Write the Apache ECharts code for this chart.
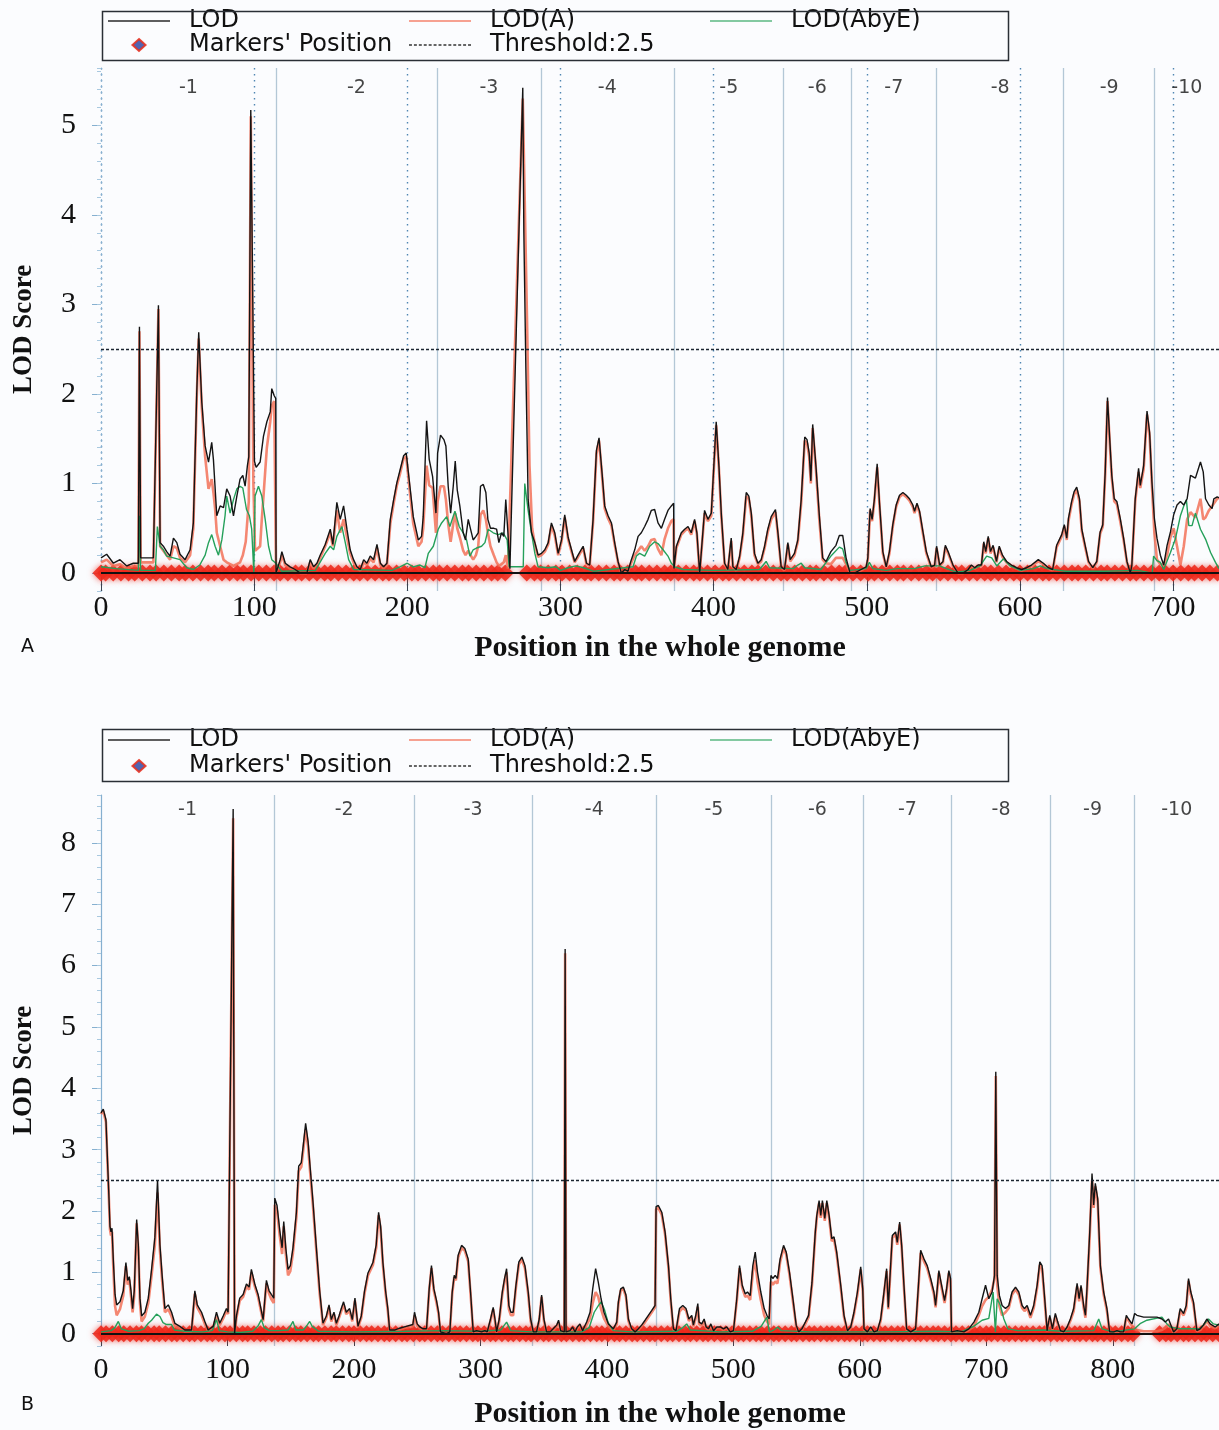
<!DOCTYPE html>
<html>
<head>
<meta charset="utf-8">
<script src="https://cdn.jsdelivr.net/npm/echarts@6/dist/echarts.min.js"></script>
<style>
html,body{margin:0;padding:0;background:#fbfcfe;}
#chart{width:1219px;height:1430px;}
</style>
</head>
<body>
<div id="chart"></div>
<script>
// ---------- DATA ----------
const chrLabels = ['-1','-2','-3','-4','-5','-6','-7','-8','-9','-10'];
const chrBoundsA = [0,114.2,219.3,287.2,374.0,445.8,489.6,545.7,628.6,688.0,730];
const chrBoundsB = [0,136.9,247.6,341.0,439.1,530.1,602.8,672.5,750.8,817.2,884];
const yLabelsA = [0,1,2,3,4,5];
const yLabelsB = [0,1,2,3,4,5,6,7,8];
const threshold = 2.5;

const markersA = [0,3,8,13,18,22,27,32,36,41,46,51,55,60,65,70,74,79,84,89,93,98,103,108,113,117,122,127,131,136,141,146,150,155,160,165,169,174,179,184,188,193,198,203,207,212,217,221,226,231,236,240,245,250,255,259,264,278,283,287,292,297,301,306,311,316,320,325,330,335,339,344,349,353,358,363,368,372,377,382,387,391,396,401,406,410,415,420,425,429,434,439,444,448,453,458,463,467,472,477,482,486,491,496,501,505,510,515,520,524,529,534,539,543,548,553,558,562,567,572,577,581,586,591,596,600,605,610,615,619,624,629,634,638,643,648,653,657,662,667,672,676,681,686,691,695,700,705,710,714,719,724,729];
const markersB = [0,4,9,14,18,23,28,32,37,42,46,51,56,60,65,70,74,79,84,88,93,98,102,107,112,116,121,126,130,135,140,144,149,154,158,163,168,172,177,182,186,191,196,200,205,210,214,219,224,228,233,238,242,247,252,256,261,266,270,275,280,284,289,294,298,303,308,312,317,322,326,331,336,340,345,350,354,359,364,368,373,378,382,387,392,396,401,406,410,415,420,424,429,434,438,443,448,452,457,462,466,471,476,480,485,490,494,499,504,508,513,518,522,527,532,536,541,546,550,555,560,564,569,574,578,583,588,592,597,602,606,611,616,620,625,630,634,639,644,648,653,658,662,667,672,676,681,686,690,695,700,704,709,714,718,723,728,732,737,742,746,751,756,760,765,770,774,779,784,788,793,798,802,807,812,816,837,842,846,851,856,860,865,870,874,879,884];

// Panel A: LOD
const lodA = [[0,0.17],[3.7,0.21],[8.1,0.11],[12.4,0.15],[16.8,0.08],[21.1,0.11],[24.4,0.11],[25.1,2.75],[25.9,0.17],[34.2,0.17],[35.5,0.15],[37.5,2.99],[38.6,0.34],[40.7,0.30],[42.9,0.24],[45.1,0.19],[47.3,0.39],[49.5,0.34],[51.6,0.21],[54.9,0.15],[58.2,0.26],[60.3,0.56],[62.5,2.0],[63.8,2.69],[65.8,1.91],[68.0,1.42],[70.2,1.24],[72.3,1.46],[73.4,1.27],[74.5,1.27],[75.6,0.64],[77.8,0.75],[80.0,0.73],[82.1,0.94],[84.3,0.86],[86.5,0.64],[88.7,0.86],[90.8,1.05],[92.6,1.09],[94.1,0.97],[95.6,1.2],[96.5,1.3],[97.8,5.17],[100.2,1.25],[101.3,1.18],[103.9,1.24],[106.1,1.53],[108.3,1.69],[110.5,1.80],[111.5,2.06],[113.1,1.98],[114.1,1.95],[114.3,0.0],[117.0,0.15],[118.1,0.24],[120.3,0.11],[123.5,0.07],[126.8,0.04],[130.1,0.0],[134.4,0.0],[136.6,0.15],[138.8,0.07],[141.0,0.11],[143.1,0.2],[146.4,0.32],[149.7,0.49],[151.4,0.32],[154.0,0.79],[156.2,0.6],[158.4,0.75],[160.6,0.49],[162.7,0.26],[164.9,0.15],[167.1,0.07],[169.3,0.04],[171.5,0.15],[173.6,0.11],[175.8,0.19],[178.0,0.15],[180.2,0.32],[182.4,0.11],[184.5,0.07],[186.7,0.11],[188.9,0.6],[191.1,0.82],[193.2,1.01],[195.4,1.16],[197.6,1.31],[199.3,1.34],[201.7,0.97],[203.9,0.63],[207.2,0.37],[209.3,0.41],[210.4,0.63],[212.6,1.70],[214.3,1.27],[216.5,1.08],[218.7,0.67],[219.8,1.34],[221.7,1.54],[223.9,1.49],[225.2,1.42],[226.7,0.97],[228.3,0.67],[230.0,0.97],[231.3,1.25],[232.6,0.93],[234.3,0.75],[236.5,0.45],[238.0,0.37],[239.8,0.60],[241.3,0.49],[243.0,0.37],[244.8,0.41],[246.3,0.45],[247.8,0.97],[249.6,0.99],[251.3,0.90],[252.6,0.60],[254.3,0.50],[256.5,0.50],[258.3,0.49],[259.8,0.34],[261.5,0.45],[263.0,0.41],[264.3,0.82],[265.7,0.45],[267.0,0.05],[275.4,5.42],[276.1,3.8],[277.4,2.3],[278.9,0.82],[281.1,0.45],[283.3,0.34],[285.4,0.2],[287.6,0.22],[289.8,0.26],[292.0,0.34],[294.1,0.56],[296.3,0.45],[298.5,0.22],[300.7,0.37],[302.8,0.65],[305.0,0.40],[307.2,0.26],[309.3,0.13],[311.5,0.20],[314.8,0.30],[317.0,0.11],[319.1,0.09],[321.3,0.6],[323.5,1.37],[325.2,1.51],[327.0,1.15],[328.9,0.75],[331.1,0.64],[333.3,0.56],[335.4,0.34],[337.6,0.13],[339.8,0.0],[342.0,0.04],[344.1,0.02],[346.3,0.15],[348.5,0.26],[350.7,0.41],[352.8,0.45],[355.0,0.52],[357.2,0.6],[359.3,0.7],[361.5,0.71],[363.7,0.56],[365.9,0.5],[368.0,0.6],[370.2,0.7],[372.4,0.75],[373.9,0.78],[374.1,0.05],[375.7,0.3],[378.9,0.45],[381.1,0.49],[383.3,0.52],[385.4,0.45],[387.6,0.60],[389.1,0.45],[390.9,0.0],[394.1,0.70],[396.3,0.60],[398.5,0.67],[401.7,1.69],[403.5,1.19],[405.0,0.67],[407.2,0.11],[409.3,0.04],[411.5,0.39],[412.6,0.07],[414.8,0.04],[417.0,0.19],[419.1,0.45],[421.3,0.90],[423.0,0.86],[424.6,0.67],[426.7,0.22],[428.9,0.11],[431.1,0.15],[433.3,0.30],[435.4,0.49],[437.6,0.63],[440.4,0.71],[442.0,0.45],[444.1,0.07],[446.3,0.04],[448.5,0.34],[450.0,0.15],[452.8,0.22],[455.0,0.37],[457.2,0.82],[459.5,1.52],[461.0,1.49],[462.4,1.34],[463.5,1.03],[464.7,1.66],[466.8,1.2],[469.0,0.65],[471.2,0.17],[473.4,0.13],[476.6,0.24],[479.9,0.31],[482.1,0.42],[484.3,0.42],[486.5,0.17],[489.1,0.0],[491.9,0.0],[496.3,0.04],[499.6,0.07],[500.7,0.17],[502.2,0.72],[503.5,0.6],[505.0,0.83],[506.8,1.22],[508.3,0.79],[510.5,0.24],[512.7,0.07],[514.8,0.24],[517.0,0.54],[519.2,0.76],[521.4,0.87],[523.6,0.9],[525.8,0.87],[527.9,0.83],[530.1,0.76],[531.2,0.69],[532.8,0.78],[534.5,0.69],[536.7,0.46],[538.9,0.24],[542.1,0.07],[544.3,0.09],[545.6,0.3],[547.6,0.09],[549.8,0.13],[551.3,0.31],[553.1,0.24],[556.3,0.09],[559.6,0.0],[562.9,0.0],[566.2,0.04],[568.3,0.09],[570.5,0.06],[572.7,0.09],[574.9,0.09],[576.4,0.35],[577.7,0.24],[579.3,0.41],[580.8,0.24],[582.5,0.31],[584.7,0.13],[586.5,0.3],[588.6,0.2],[591.3,0.13],[594.5,0.09],[597.8,0.06],[601.1,0.04],[604.4,0.06],[607.6,0.09],[612.0,0.15],[615.3,0.11],[618.6,0.06],[621.4,0.04],[624.0,0.31],[627.3,0.43],[629.0,0.54],[630.6,0.39],[631.7,0.61],[633.8,0.80],[635.4,0.91],[637.1,0.96],[638.9,0.83],[640.4,0.49],[642.6,0.31],[644.8,0.13],[647.6,0.06],[650.2,0.13],[652.4,0.46],[654.1,0.54],[655.7,1.13],[657.2,1.96],[659.0,1.39],[660.0,1.09],[661.6,0.83],[663.3,0.80],[665.5,0.61],[667.7,0.39],[669.9,0.13],[672.1,0.0],[673.1,0.09],[675.3,0.83],[677.5,1.17],[678.6,0.98],[680.8,1.2],[683.0,1.81],[684.7,1.57],[686.2,1.02],[687.8,0.61],[689.5,0.39],[691.7,0.2],[693.9,0.09],[696.1,0.31],[698.3,0.46],[700.4,0.65],[702.6,0.76],[704.8,0.80],[707.0,0.76],[709.2,0.83],[711.4,1.09],[714.6,1.06],[717.9,1.24],[719.7,1.13],[721.2,0.83],[723.4,0.76],[725.5,0.72],[726.6,0.83],[728.8,0.85],[730,0.84]];

// Panel A: LOD(A)
const lodAddA = [[0,0.12],[3.7,0.15],[8.1,0.08],[12.4,0.1],[16.8,0.05],[21.1,0.08],[24.4,0.08],[25.1,2.7],[25.9,0.12],[34.2,0.12],[35.5,0.1],[37.5,2.95],[38.6,0.3],[40.7,0.25],[42.9,0.2],[45.1,0.15],[47.3,0.3],[49.5,0.28],[51.6,0.17],[54.9,0.12],[58.2,0.2],[60.3,0.5],[62.5,1.95],[63.8,2.62],[65.8,1.85],[68.0,1.3],[70.2,0.94],[72.3,1.05],[73.4,0.9],[74.5,0.72],[75.6,0.45],[77.8,0.3],[80.0,0.15],[82.1,0.12],[84.3,0.1],[86.5,0.08],[88.7,0.1],[90.8,0.12],[92.6,0.2],[94.5,0.35],[96.5,0.8],[97.8,5.1],[99.5,1.0],[100.6,0.25],[103.9,0.3],[105.0,0.6],[106.1,0.86],[108.3,1.4],[110.5,1.69],[111.5,1.87],[113.1,1.92],[114.1,1.9],[114.3,0.0],[117.0,0.12],[118.1,0.2],[120.3,0.09],[123.5,0.05],[126.8,0.03],[130.1,0.0],[134.4,0.0],[136.6,0.12],[138.8,0.05],[141.0,0.09],[143.1,0.17],[146.4,0.3],[149.7,0.45],[151.4,0.3],[154.0,0.7],[156.2,0.45],[158.4,0.6],[160.6,0.4],[162.7,0.22],[164.9,0.12],[167.1,0.05],[169.3,0.03],[171.5,0.12],[173.6,0.09],[175.8,0.16],[178.0,0.12],[180.2,0.28],[182.4,0.09],[184.5,0.05],[186.7,0.09],[188.9,0.55],[191.1,0.78],[193.2,0.98],[195.4,1.12],[197.6,1.28],[199.3,1.30],[201.7,0.9],[203.9,0.55],[207.2,0.3],[209.3,0.35],[210.4,0.5],[212.6,1.2],[214.3,0.98],[216.5,0.95],[218.7,0.45],[219.8,0.8],[221.7,0.97],[223.9,0.97],[225.2,0.82],[226.7,0.55],[228.3,0.35],[230.0,0.55],[231.3,0.67],[232.6,0.5],[234.3,0.4],[236.5,0.25],[238.0,0.2],[239.8,0.25],[241.3,0.2],[243.0,0.15],[244.8,0.2],[246.3,0.3],[247.8,0.65],[249.6,0.7],[251.3,0.6],[252.6,0.45],[254.3,0.3],[256.5,0.2],[258.3,0.12],[259.8,0.08],[261.5,0.1],[263.0,0.12],[264.3,0.2],[265.7,0.05],[267.0,0.05],[275.4,5.3],[276.3,4.5],[278.2,2.8],[279.8,1.2],[281.5,0.5],[283.3,0.32],[285.4,0.18],[287.6,0.2],[289.8,0.24],[292.0,0.32],[294.1,0.53],[296.3,0.42],[298.5,0.2],[300.7,0.35],[302.8,0.62],[305.0,0.38],[307.2,0.24],[309.3,0.12],[311.5,0.18],[314.8,0.28],[317.0,0.1],[319.1,0.08],[321.3,0.57],[323.5,1.33],[325.2,1.48],[327.0,1.12],[328.9,0.72],[331.1,0.61],[333.3,0.53],[335.4,0.32],[337.6,0.12],[339.8,0.0],[342.0,0.03],[344.1,0.02],[346.3,0.12],[348.5,0.2],[350.7,0.25],[352.8,0.3],[355.0,0.25],[357.2,0.3],[359.3,0.37],[361.5,0.38],[363.7,0.27],[365.9,0.2],[368.0,0.38],[370.2,0.5],[372.4,0.58],[373.9,0.6],[374.1,0.05],[375.7,0.28],[378.9,0.43],[381.1,0.47],[383.3,0.5],[385.4,0.43],[387.6,0.58],[389.1,0.43],[390.9,0.0],[394.1,0.67],[396.3,0.58],[398.5,0.64],[401.7,1.65],[403.5,1.16],[405.0,0.64],[407.2,0.1],[409.3,0.03],[411.5,0.36],[412.6,0.06],[414.8,0.03],[417.0,0.17],[419.1,0.42],[421.3,0.86],[423.0,0.83],[424.6,0.64],[426.7,0.2],[428.9,0.1],[431.1,0.13],[433.3,0.28],[435.4,0.46],[437.6,0.6],[440.4,0.68],[442.0,0.43],[444.1,0.06],[446.3,0.03],[448.5,0.32],[450.0,0.13],[452.8,0.2],[455.0,0.35],[457.2,0.78],[459.5,1.48],[461.0,1.45],[462.4,1.3],[463.5,1.0],[464.7,1.62],[466.8,1.16],[469.0,0.6],[471.2,0.15],[473.4,0.11],[476.6,0.1],[479.9,0.17],[482.1,0.17],[484.3,0.17],[486.5,0.1],[489.1,0.0],[491.9,0.0],[496.3,0.03],[499.6,0.06],[500.7,0.15],[502.2,0.7],[503.5,0.58],[505.0,0.8],[506.8,1.18],[508.3,0.76],[510.5,0.22],[512.7,0.06],[514.8,0.22],[517.0,0.52],[519.2,0.74],[521.4,0.85],[523.6,0.88],[525.8,0.85],[527.9,0.81],[530.1,0.74],[531.2,0.67],[532.8,0.76],[534.5,0.67],[536.7,0.44],[538.9,0.22],[542.1,0.06],[544.3,0.08],[545.6,0.28],[547.6,0.08],[549.8,0.12],[551.3,0.29],[553.1,0.22],[556.3,0.08],[559.6,0.0],[562.9,0.0],[566.2,0.03],[568.3,0.08],[570.5,0.05],[572.7,0.08],[574.9,0.08],[576.4,0.33],[577.7,0.22],[579.3,0.39],[580.8,0.22],[582.5,0.29],[584.7,0.12],[586.5,0.28],[588.6,0.18],[591.3,0.12],[594.5,0.08],[597.8,0.05],[601.1,0.03],[604.4,0.05],[607.6,0.08],[612.0,0.13],[615.3,0.1],[618.6,0.05],[621.4,0.03],[624.0,0.29],[627.3,0.41],[629.0,0.52],[630.6,0.37],[631.7,0.58],[633.8,0.77],[635.4,0.88],[637.1,0.93],[638.9,0.8],[640.4,0.47],[642.6,0.29],[644.8,0.12],[647.6,0.05],[650.2,0.12],[652.4,0.44],[654.1,0.52],[655.7,1.1],[657.2,1.92],[659.0,1.35],[660.0,1.06],[661.6,0.8],[663.3,0.77],[665.5,0.58],[667.7,0.37],[669.9,0.12],[672.1,0.0],[673.1,0.08],[675.3,0.8],[677.5,1.13],[678.6,0.95],[680.8,1.16],[683.0,1.77],[684.7,1.53],[686.2,0.98],[687.8,0.45],[689.5,0.15],[691.7,0.1],[693.9,0.09],[696.1,0.2],[698.3,0.4],[700.4,0.5],[702.6,0.3],[704.8,0.09],[707.0,0.3],[709.2,0.6],[711.4,0.68],[714.6,0.62],[717.9,0.83],[719.7,0.6],[721.2,0.62],[723.4,0.7],[725.5,0.75],[728.8,0.83],[730,0.84]];

// Panel A: LOD(AbyE)
const lodAbyEA = [[0,0.07],[10,0.05],[24.4,0.03],[25.1,0.64],[25.9,0.03],[35.5,0.03],[36.8,0.52],[38.6,0.30],[40.7,0.26],[42.9,0.19],[47.3,0.17],[51.6,0.15],[56,0.06],[60.3,0.04],[64.5,0.09],[68.0,0.2],[70.2,0.34],[72.3,0.43],[74.5,0.30],[76.7,0.2],[78.9,0.37],[81.0,0.64],[82.1,0.86],[84.3,0.67],[86.5,0.82],[88.7,0.94],[90.8,0.97],[92.6,0.95],[95.0,0.71],[96.9,0.64],[98.4,0.49],[99.8,0.0],[100.6,0.86],[102.8,0.97],[105.0,0.86],[107.2,0.6],[109.4,0.3],[111.5,0.15],[114.2,0.11],[118,0.02],[140,0.03],[146.4,0.22],[149.7,0.30],[151.9,0.26],[154.0,0.41],[157.3,0.52],[159.5,0.34],[161.7,0.15],[165,0.04],[190,0.03],[195.2,0.07],[200,0.11],[203.9,0.07],[208.3,0.09],[211.5,0.06],[213.7,0.22],[217.0,0.3],[220.2,0.49],[222.4,0.56],[225.7,0.63],[227.8,0.52],[231.1,0.69],[233.9,0.52],[236.5,0.45],[238.7,0.37],[240.9,0.19],[243.0,0.26],[245.2,0.28],[248.5,0.3],[250.7,0.34],[252.8,0.49],[256.1,0.45],[259.3,0.43],[262.6,0.45],[265.2,0.37],[266.5,0.07],[275.7,0.07],[276.7,1.0],[278.9,0.7],[281.1,0.45],[283.3,0.22],[285.4,0.07],[292,0.06],[297,0.07],[300,0.03],[305,0.06],[310,0.08],[315,0.06],[322,0.02],[347.4,0.07],[349.6,0.19],[351.7,0.22],[355.0,0.19],[358.3,0.3],[361.5,0.35],[363.7,0.33],[367,0.26],[370.2,0.19],[372.4,0.11],[374.6,0.07],[380,0.04],[400,0.03],[430,0.04],[434.3,0.13],[436.5,0.06],[452,0.05],[455,0.09],[457.2,0.11],[459.5,0.06],[470,0.04],[476.6,0.19],[482.1,0.29],[484.3,0.27],[486.5,0.12],[489,0.03],[499.6,0.05],[501.7,0.12],[504.0,0.05],[512.7,0.03],[520,0.05],[531.2,0.05],[538,0.08],[547.6,0.08],[552.0,0.05],[558.6,0.01],[567.4,0.03],[574,0.08],[578.3,0.19],[581.6,0.17],[584.9,0.08],[589.3,0.16],[593.6,0.08],[600.2,0.03],[609.0,0.05],[613.3,0.08],[617.7,0.05],[630,0.02],[655,0.02],[677,0.03],[686.4,0.0],[687.3,0.19],[689.5,0.14],[691.7,0.12],[693.9,0.04],[698.3,0.23],[701.5,0.38],[704.8,0.64],[707.0,0.75],[708.7,0.82],[710.3,0.53],[712.4,0.53],[714.6,0.67],[717.9,0.49],[721.2,0.38],[724.5,0.23],[727.7,0.12],[730,0.05]];

// Panel B: LOD
const lodB = [[0,3.6],[1.8,3.66],[3.9,3.49],[5.0,2.9],[6.1,2.33],[7.1,1.75],[7.9,1.66],[8.7,1.72],[9.7,1.22],[11.1,0.64],[12.4,0.47],[15.0,0.52],[17.6,0.7],[19.7,1.16],[21.1,0.87],[22.4,0.93],[23.7,0.7],[25.0,0.41],[26.3,0.7],[28.2,1.86],[29.5,1.45],[30.8,0.58],[32.1,0.29],[34.7,0.35],[37.4,0.58],[40.0,1.05],[42.6,1.57],[44.7,2.5],[46.6,1.45],[48.4,0.93],[50.5,0.41],[53.2,0.47],[55.8,0.35],[58.4,0.17],[62.4,0.12],[66.3,0.06],[71.6,0.06],[74.2,0.7],[76.1,0.47],[79.5,0.35],[82.1,0.2],[84.7,0.06],[88.7,0.12],[91.3,0.35],[93.9,0.17],[96.6,0.29],[99.2,0.41],[100.5,0.35],[104.5,8.55],[105.6,0.0],[107.1,0.29],[109.7,0.58],[112.4,0.64],[115.0,0.81],[117.1,0.76],[118.9,1.05],[121.6,0.81],[124.2,0.64],[128.2,0.23],[130.8,0.87],[132.9,0.7],[134.7,0.64],[136.6,0.58],[137.4,2.21],[139.2,2.09],[141.3,1.69],[143.2,1.4],[144.5,1.83],[146.1,1.4],[147.9,1.05],[149.7,1.11],[151.8,1.4],[154.5,1.98],[156.3,2.73],[158.4,2.79],[160.3,3.14],[161.8,3.43],[163.7,3.14],[165.5,2.68],[167.6,2.15],[170.3,1.4],[172.9,0.7],[175.5,0.17],[178.2,0.29],[180.3,0.47],[182.1,0.23],[184.2,0.35],[186.1,0.17],[188.2,0.29],[190.0,0.41],[191.8,0.52],[193.9,0.35],[196.6,0.41],[198.7,0.23],[200.8,0.58],[203.2,0.12],[205.8,0.29],[208.4,0.7],[211.1,0.99],[215.0,1.16],[217.6,1.45],[219.5,1.98],[221.1,1.75],[222.9,1.16],[225.0,0.7],[226.8,0.41],[228.2,0.06],[232.1,0.06],[236.1,0.09],[241.3,0.12],[246.6,0.15],[247.9,0.35],[250.0,0.16],[252.1,0.11],[254.7,0.08],[257.4,0.08],[259.5,0.73],[261.3,1.11],[263.2,0.73],[265.3,0.54],[266.9,0.35],[268.4,0.03],[273.2,0.0],[275.8,0.03],[277.7,0.68],[279.3,0.95],[280.6,0.90],[282.4,1.28],[285.1,1.44],[287.7,1.39],[290.3,1.22],[292.2,0.68],[294.3,0.03],[296.9,0.05],[300.9,0.03],[303.5,0.05],[305.4,0.03],[308.0,0.24],[310.1,0.43],[311.5,0.24],[312.8,0.03],[314.9,0.24],[317.3,0.68],[319.1,0.90],[320.7,1.06],[322.5,0.46],[324.1,0.35],[325.9,0.35],[328.1,0.79],[330.4,1.17],[332.8,1.25],[335.2,1.11],[337.8,0.68],[339.7,0.24],[341.8,0.03],[344.4,0.03],[346.5,0.24],[348.4,0.63],[350.2,0.24],[352.3,0.03],[355.0,0.03],[357.6,0.08],[360.3,0.14],[361.8,0.22],[363.4,0.05],[366.3,0.03],[367.0,6.27],[367.7,0.03],[370.8,0.05],[372.9,0.11],[374.8,0.03],[376.6,0.11],[378.7,0.16],[380.8,0.05],[384.0,0.19],[386.7,0.35],[388.8,0.73],[391.1,1.06],[393.2,0.84],[395.4,0.57],[397.7,0.35],[401.2,0.16],[405.1,0.08],[407.8,0.19],[409.1,0.52],[410.9,0.73],[413.0,0.76],[415.1,0.63],[417.0,0.24],[419.6,0.08],[422.3,0.03],[424.9,0.08],[427.5,0.14],[430.2,0.22],[432.8,0.30],[435.5,0.38],[438.1,0.46],[438.9,2.07],[440.7,2.09],[443.4,1.98],[446.0,1.66],[448.7,1.11],[450.5,0.57],[452.6,0.08],[454.7,0.05],[457.4,0.41],[460.0,0.46],[462.6,0.41],[464.8,0.24],[467.1,0.30],[468.4,0.14],[470.3,0.30],[471.9,0.49],[472.9,0.19],[475.0,0.16],[476.9,0.24],[478.5,0.11],[480.3,0.08],[482.2,0.16],[484.3,0.05],[486.9,0.11],[489.6,0.11],[492.2,0.08],[494.8,0.11],[497.5,0.03],[500.1,0.05],[502.7,0.57],[504.9,1.11],[507.0,0.79],[509.4,0.65],[511.2,0.68],[513.3,0.62],[515.4,1.11],[517.3,1.33],[519.1,1.00],[521.7,0.68],[524.4,0.41],[526.5,0.30],[528.3,0.24],[529.7,0.95],[531.2,0.90],[533.1,0.95],[534.9,0.90],[537.0,1.22],[539.7,1.44],[541.8,1.33],[544.4,1.00],[547.1,0.57],[549.7,0.14],[551.6,0.03],[554.2,0.08],[556.9,0.19],[559.5,0.30],[562.2,0.84],[564.8,1.66],[566.0,1.93],[567.8,2.17],[569.1,1.93],[570.4,2.17],[572.3,1.88],[573.9,2.17],[575.7,1.93],[577.8,1.55],[579.6,1.58],[581.7,1.33],[584.9,0.79],[587.5,0.30],[590.2,0.05],[592.8,0.11],[595.4,0.35],[598.1,0.68],[600.7,1.09],[602.3,0.73],[603.3,0.08],[606.0,0.03],[608.6,0.11],[611.2,0.03],[613.9,0.05],[616.5,0.24],[619.1,0.68],[621.2,1.06],[622.5,0.43],[623.9,0.95],[625.7,1.60],[628.3,1.66],[629.6,1.49],[631.5,1.82],[633.1,1.44],[634.9,0.79],[637.0,0.08],[640.2,0.03],[644.1,0.08],[646.0,0.68],[648.1,1.36],[650.7,1.22],[653.3,1.11],[656.0,0.90],[658.6,0.68],[659.9,0.46],[661.2,0.73],[662.5,1.03],[663.9,0.87],[665.2,0.90],[667.0,0.54],[668.6,0.73],[670.4,1.03],[671.7,0.90],[672.5,0.03],[677.0,0.05],[682.3,0.03],[686.2,0.08],[690.2,0.19],[694.1,0.35],[696.7,0.57],[699.4,0.79],[702.0,0.57],[704.6,0.68],[706.5,0.95],[707.5,4.27],[708.6,0.95],[710.4,0.62],[712.5,0.46],[715.2,0.41],[717.8,0.46],[720.4,0.68],[723.1,0.76],[725.7,0.68],[728.3,0.46],[730.2,0.41],[732.3,0.46],[734.9,0.30],[737.5,0.46],[740.2,0.79],[742.3,1.17],[744.1,1.11],[746.2,0.57],[748.1,0.05],[750.2,0.30],[752.3,0.08],[754.6,0.33],[756.5,0.19],[758.6,0.05],[761.2,0.03],[763.9,0.11],[766.5,0.24],[769.1,0.41],[771.8,0.82],[773.4,0.57],[774.9,0.79],[777.0,0.46],[778.4,0.30],[779.6,0.73],[781.8,1.66],[783.6,2.61],[784.9,2.10],[786.2,2.45],[788.1,2.20],[790.2,1.11],[792.8,0.68],[795.4,0.41],[797.5,0.03],[800.7,0.03],[803.3,0.05],[806.0,0.03],[808.6,0.03],[810.7,0.30],[812.5,0.24],[815.2,0.16],[817.3,0.33],[819.1,0.30],[824.4,0.27],[829.6,0.27],[834.9,0.27],[838.9,0.24],[841.5,0.19],[844.1,0.24],[846.0,0.14],[848.1,0.03],[850.7,0.08],[853.3,0.41],[856.0,0.33],[858.1,0.46],[859.9,0.90],[861.7,0.68],[863.8,0.52],[866.5,0.05],[869.1,0.08],[871.7,0.14],[874.4,0.24],[877.0,0.16],[881.0,0.11],[884,0.16]];

// Panel B: LOD(A)
const lodAddB = [[0,3.58],[1.8,3.63],[3.9,3.45],[5.0,2.85],[6.1,2.28],[7.1,1.7],[7.9,1.6],[8.7,1.66],[9.7,1.1],[11.1,0.45],[12.4,0.3],[15.0,0.4],[17.6,0.62],[19.7,1.1],[21.1,0.8],[22.4,0.88],[23.7,0.62],[25.0,0.35],[26.3,0.62],[28.2,1.8],[29.5,1.38],[30.8,0.5],[32.1,0.2],[34.7,0.28],[37.4,0.5],[40.0,0.95],[42.6,1.45],[44.7,2.3],[46.6,1.35],[48.4,0.85],[50.5,0.35],[53.2,0.4],[55.8,0.28],[58.4,0.12],[62.4,0.09],[66.3,0.04],[71.6,0.04],[74.2,0.65],[76.1,0.43],[79.5,0.3],[82.1,0.16],[84.7,0.04],[88.7,0.1],[91.3,0.28],[93.9,0.14],[96.6,0.25],[99.2,0.37],[100.5,0.32],[104.5,8.4],[105.6,0.0],[107.1,0.26],[109.7,0.54],[112.4,0.6],[115.0,0.77],[117.1,0.72],[118.9,1.0],[121.6,0.77],[124.2,0.6],[128.2,0.2],[130.8,0.82],[132.9,0.65],[134.7,0.56],[136.6,0.5],[137.4,2.1],[139.2,2.0],[141.3,1.6],[143.2,1.3],[144.5,1.75],[146.1,1.3],[147.9,0.95],[149.7,1.02],[151.8,1.32],[154.5,1.9],[156.3,2.65],[158.4,2.72],[160.3,3.06],[161.8,3.33],[163.7,3.06],[165.5,2.6],[167.6,2.08],[170.3,1.34],[172.9,0.65],[175.5,0.14],[178.2,0.26],[180.3,0.43],[182.1,0.2],[184.2,0.32],[186.1,0.14],[188.2,0.26],[190.0,0.37],[191.8,0.48],[193.9,0.32],[196.6,0.37],[198.7,0.2],[200.8,0.54],[203.2,0.1],[205.8,0.26],[208.4,0.66],[211.1,0.95],[215.0,1.12],[217.6,1.4],[219.5,1.93],[221.1,1.7],[222.9,1.12],[225.0,0.66],[226.8,0.37],[228.2,0.05],[232.1,0.05],[236.1,0.07],[241.3,0.1],[246.6,0.12],[247.9,0.3],[250.0,0.13],[252.1,0.09],[254.7,0.06],[257.4,0.06],[259.5,0.7],[261.3,1.07],[263.2,0.7],[265.3,0.5],[266.9,0.32],[268.4,0.02],[273.2,0.0],[275.8,0.02],[277.7,0.65],[279.3,0.92],[280.6,0.87],[282.4,1.24],[285.1,1.4],[287.7,1.35],[290.3,1.18],[292.2,0.65],[294.3,0.02],[296.9,0.04],[300.9,0.02],[303.5,0.04],[305.4,0.02],[308.0,0.21],[310.1,0.4],[311.5,0.21],[312.8,0.02],[314.9,0.21],[317.3,0.64],[319.1,0.86],[320.7,1.0],[322.5,0.4],[324.1,0.3],[325.9,0.3],[328.1,0.75],[330.4,1.13],[332.8,1.21],[335.2,1.07],[337.8,0.64],[339.7,0.21],[341.8,0.02],[344.4,0.02],[346.5,0.21],[348.4,0.6],[350.2,0.21],[352.3,0.02],[355.0,0.02],[357.6,0.06],[360.3,0.12],[361.8,0.19],[363.4,0.04],[366.3,0.02],[367.0,6.2],[367.7,0.02],[370.8,0.04],[372.9,0.09],[374.8,0.02],[376.6,0.09],[378.7,0.13],[380.8,0.04],[384.0,0.15],[386.7,0.25],[388.8,0.5],[391.1,0.68],[393.2,0.6],[395.4,0.4],[397.7,0.25],[401.2,0.12],[405.1,0.06],[407.8,0.16],[409.1,0.48],[410.9,0.7],[413.0,0.73],[415.1,0.6],[417.0,0.21],[419.6,0.06],[422.3,0.02],[424.9,0.06],[427.5,0.12],[430.2,0.19],[432.8,0.27],[435.5,0.35],[438.1,0.43],[438.9,2.03],[440.7,2.05],[443.4,1.94],[446.0,1.62],[448.7,1.07],[450.5,0.53],[452.6,0.06],[454.7,0.04],[457.4,0.36],[460.0,0.42],[462.6,0.38],[464.8,0.21],[467.1,0.27],[468.4,0.12],[470.3,0.26],[471.9,0.44],[472.9,0.16],[475.0,0.13],[476.9,0.2],[478.5,0.09],[480.3,0.06],[482.2,0.13],[484.3,0.04],[486.9,0.09],[489.6,0.09],[492.2,0.06],[494.8,0.09],[497.5,0.02],[500.1,0.04],[502.7,0.53],[504.9,1.07],[507.0,0.75],[509.4,0.6],[511.2,0.62],[513.3,0.55],[515.4,1.0],[517.3,1.2],[519.1,0.85],[521.7,0.55],[524.4,0.3],[526.5,0.2],[528.3,0.15],[529.7,0.85],[531.2,0.8],[533.1,0.85],[534.9,0.82],[537.0,1.17],[539.7,1.4],[541.8,1.29],[544.4,0.96],[547.1,0.53],[549.7,0.12],[551.6,0.02],[554.2,0.06],[556.9,0.16],[559.5,0.27],[562.2,0.8],[564.8,1.62],[566.0,1.89],[567.8,2.13],[569.1,1.89],[570.4,2.13],[572.3,1.84],[573.9,2.13],[575.7,1.89],[577.8,1.51],[579.6,1.54],[581.7,1.29],[584.9,0.75],[587.5,0.27],[590.2,0.04],[592.8,0.09],[595.4,0.32],[598.1,0.64],[600.7,1.05],[602.3,0.7],[603.3,0.06],[606.0,0.02],[608.6,0.09],[611.2,0.02],[613.9,0.04],[616.5,0.21],[619.1,0.64],[621.2,1.02],[622.5,0.4],[623.9,0.91],[625.7,1.56],[628.3,1.62],[629.6,1.45],[631.5,1.78],[633.1,1.4],[634.9,0.75],[637.0,0.06],[640.2,0.02],[644.1,0.06],[646.0,0.64],[648.1,1.32],[650.7,1.18],[653.3,1.07],[656.0,0.86],[658.6,0.64],[659.9,0.43],[661.2,0.7],[662.5,0.99],[663.9,0.83],[665.2,0.86],[667.0,0.5],[668.6,0.7],[670.4,0.99],[671.7,0.86],[672.5,0.02],[677.0,0.04],[682.3,0.02],[686.2,0.06],[690.2,0.12],[694.1,0.3],[696.7,0.45],[699.4,0.55],[702.0,0.6],[704.6,0.72],[706.5,0.9],[707.5,4.2],[708.6,0.8],[710.4,0.45],[712.5,0.3],[715.2,0.35],[717.8,0.42],[720.4,0.64],[723.1,0.72],[725.7,0.64],[728.3,0.42],[730.2,0.37],[732.3,0.42],[734.9,0.26],[737.5,0.42],[740.2,0.75],[742.3,1.12],[744.1,1.06],[746.2,0.53],[748.1,0.04],[750.2,0.26],[752.3,0.06],[754.6,0.29],[756.5,0.16],[758.6,0.04],[761.2,0.02],[763.9,0.09],[766.5,0.21],[769.1,0.37],[771.8,0.77],[773.4,0.53],[774.9,0.75],[777.0,0.42],[778.4,0.26],[779.6,0.69],[781.8,1.6],[783.6,2.5],[784.9,2.05],[786.2,2.4],[788.1,2.15],[790.2,1.07],[792.8,0.64],[795.4,0.37],[797.5,0.02],[800.7,0.02],[803.3,0.04],[806.0,0.02],[808.6,0.02],[810.7,0.26],[812.5,0.21],[815.2,0.13],[817.3,0.08],[819.1,0.06],[824.4,0.04],[829.6,0.04],[834.9,0.04],[838.9,0.06],[841.5,0.1],[844.1,0.15],[846.0,0.1],[848.1,0.02],[850.7,0.06],[853.3,0.37],[856.0,0.3],[858.1,0.42],[859.9,0.86],[861.7,0.64],[863.8,0.48],[866.5,0.04],[869.1,0.06],[871.7,0.12],[874.4,0.21],[877.0,0.13],[881.0,0.09],[884,0.13]];

// Panel B: LOD(AbyE)
const lodAbyEB = [[0,0.03],[8,0.05],[11,0.1],[13.7,0.2],[16,0.08],[22,0.04],[30,0.05],[34,0.08],[37.4,0.17],[40,0.22],[43.9,0.32],[46.6,0.28],[49,0.18],[51.8,0.15],[55.8,0.15],[58,0.06],[66,0.04],[80,0.03],[88,0.05],[91.3,0.23],[93.5,0.05],[100,0.03],[110,0.02],[120,0.04],[124,0.12],[126.8,0.23],[129,0.1],[133,0.05],[140,0.05],[148,0.06],[151.8,0.2],[154,0.06],[160,0.06],[163,0.14],[165,0.2],[167,0.12],[172,0.04],[200,0.03],[240,0.04],[270,0.05],[300,0.04],[316,0.06],[320.7,0.19],[324,0.05],[340,0.03],[380,0.03],[386,0.1],[390,0.35],[393,0.45],[395.4,0.52],[398,0.4],[401,0.18],[405,0.05],[420,0.03],[455,0.04],[460,0.1],[463.1,0.16],[466,0.06],[490,0.03],[515,0.04],[522,0.12],[526.5,0.27],[528.5,0.03],[532,0.06],[535.1,0.11],[538,0.05],[560,0.03],[620,0.03],[660,0.04],[680,0.03],[690,0.12],[696.7,0.22],[702,0.25],[705.4,0.68],[707.2,0.03],[708.6,0.57],[711.2,0.46],[713.9,0.24],[717,0.08],[725,0.05],[745,0.06],[760,0.04],[785,0.05],[788.9,0.24],[791.5,0.08],[800,0.03],[817.3,0.08],[822,0.17],[827,0.22],[838.9,0.27],[842.8,0.16],[845.5,0.11],[853,0.08],[869,0.08],[875.7,0.24],[879.6,0.16],[884,0.14]];

// ---------- STYLE ----------
const C_LOD = '#141414', C_ADD = '#f2694f', C_EPI = '#24a05a', C_MARK = '#ee2a1c', C_THR = '#1b2530';
const SERIF = '"Liberation Serif","Times New Roman",serif';
const SANS = '"DejaVu Sans","Liberation Sans",Arial,sans-serif';

const panels = [
  {grid:{left:101,right:0,top:68,height:523}, xmax:730, ymax:5.64, bounds:chrBoundsA, yLabels:yLabelsA,
   lod:lodA, add:lodAddA, epi:lodAbyEA, markers:markersA, labelY:5.42, dottedX:true, nameGap:42, labelMargin:2},
  {grid:{left:101,right:0,top:795,height:551}, xmax:884, ymax:8.78, bounds:chrBoundsB, yLabels:yLabelsB,
   lod:lodB, add:lodAddB, epi:lodAbyEB, markers:markersB, labelY:8.53, dottedX:false, nameGap:53, labelMargin:9}
];

const grid=[], xAxis=[], yAxis=[], series=[];
panels.forEach((p,i)=>{
  grid.push(p.grid);
  xAxis.push({
    type:'value', gridIndex:i, min:0, max:p.xmax, interval:100,
    axisLine:{show:false, onZero:false},
    axisTick:{show:true, inside:true, length:14, lineStyle:{color:'#3a4450', width:1}},
    axisLabel:{show:true, margin:p.labelMargin, fontFamily:SERIF, fontSize:30, color:'#111', showMaxLabel:false},
    splitLine:{show:p.dottedX, showMaxLine:false, lineStyle:{color:'#4f86b2', width:1.4, type:[1.5,4.5]}},
    name:'Position in the whole genome', nameLocation:'middle', nameGap:p.nameGap,
    nameTextStyle:{fontFamily:SERIF, fontSize:30, fontWeight:'bold', color:'#111'}
  });
  yAxis.push({
    type:'value', gridIndex:i, min:-0.2, max:p.ymax, position:'left',
    axisLine:{show:true, lineStyle:{color:'#86b0d0', width:1.2, type: p.dottedX ? [1.5,4.5] : 'solid'}},
    axisTick:{show:true, length:9, customValues:p.yLabels, lineStyle:{color:'#86b0d0'}},
    axisLabel:{show:true, margin:25, customValues:p.yLabels, fontFamily:SERIF, fontSize:30, color:'#111'},
    splitLine:{show:false},
    name:'LOD Score', nameLocation:'middle', nameGap:63,
    nameTextStyle:{fontFamily:SERIF, fontSize:27, fontWeight:'bold', color:'#111'}
  });
  yAxis.push({
    type:'value', gridIndex:i, min:-0.2, max:p.ymax, interval:0.2, position:'left',
    axisLine:{show:false}, axisLabel:{show:false}, splitLine:{show:false},
    axisTick:{show:true, length:4, lineStyle:{color:'#a8c8df'}}
  });
  const yi = i*2;
  // chromosome boundaries
  series.push({
    type:'line', xAxisIndex:i, yAxisIndex:yi, data:[], silent:true,
    markLine:{silent:true, symbol:'none', z:1, label:{show:false}, animation:false,
      lineStyle:{color:'#b3c7d6', width:1.3, type:'solid'},
      data:p.bounds.slice(1,-1).map(v=>({xAxis:v}))}
  });
  // chromosome labels
  series.push({
    type:'scatter', xAxisIndex:i, yAxisIndex:yi, symbolSize:0, silent:true, z:6,
    data:chrLabels.map((t,k)=>({value:[(p.bounds[k]+p.bounds[k+1])/2, p.labelY], name:t})),
    label:{show:true, position:'inside', formatter:'{b}', fontFamily:SANS, fontSize:19, color:'#151515'}
  });
  // markers
  series.push({
    type:'scatter', name:"Markers' Position", xAxisIndex:i, yAxisIndex:yi, z:1,
    symbol:'diamond', symbolSize:[17,17],
    itemStyle:{color:C_MARK, opacity:0.88, shadowBlur:6, shadowColor:'rgba(238,42,28,0.6)'},
    data:p.markers.map(x=>[x,0]),
    markLine:{silent:true, symbol:'none', z:7, label:{show:false}, animation:false,
      lineStyle:{color:'#111', width:2, type:'solid'}, data:[{yAxis:0}]}
  });
  series.push({
    type:'line', name:'LOD(A)', xAxisIndex:i, yAxisIndex:yi, z:2, showSymbol:false, symbol:'none',
    itemStyle:{color:C_ADD}, lineStyle:{color:C_ADD, width:2.6, opacity:0.8}, data:p.add
  });
  series.push({
    type:'line', name:'LOD(AbyE)', xAxisIndex:i, yAxisIndex:yi, z:3, showSymbol:false, symbol:'none',
    itemStyle:{color:C_EPI}, lineStyle:{color:C_EPI, width:1.4}, data:p.epi
  });
  series.push({
    type:'line', name:'LOD', xAxisIndex:i, yAxisIndex:yi, z:4, showSymbol:false, symbol:'none',
    itemStyle:{color:C_LOD}, lineStyle:{color:C_LOD, width:1.4}, data:p.lod
  });
  series.push({
    type:'line', name:'Threshold:2.5', xAxisIndex:i, yAxisIndex:yi, z:5, showSymbol:false, symbol:'none',
    itemStyle:{color:C_THR}, lineStyle:{color:C_THR, width:1.4, type:[3,2]}, data:[],
    markLine:{silent:true, symbol:'none', z:5, label:{show:false}, animation:false,
      lineStyle:{color:C_THR, width:1.4, type:[3,2]}, data:[{yAxis:threshold}]}
  });
});

// legend icon shapes (drawn in a 62 x 12 box)
const ICON_LINE = 'path://M0,5.3H62V6.7H0Z';
let dashPath = 'path://';
for (let x = 0; x < 62; x += 5) dashPath += 'M'+x+',5.3h3v1.4h-3Z';
const ICON_DIAMOND = 'path://M31,0.5L37,6L31,11.5L25,6Z';

function makeLegend(top, lh){
  return {
    left:108, top:top, width:910, padding:0, itemGap:0, itemWidth:62, itemHeight:12,
    selectedMode:false, symbolKeepAspect:true,
    data:[
      {name:'LOD', icon:ICON_LINE, itemStyle:{color:'#2a2a2a', borderWidth:0}},
      {name:'LOD(A)', icon:ICON_LINE, itemStyle:{color:'#f4836d', borderWidth:0}},
      {name:'LOD(AbyE)', icon:ICON_LINE, itemStyle:{color:'#5bb982', borderWidth:0}},
      {name:"Markers' Position", icon:ICON_DIAMOND, itemStyle:{color:'#3a4ea6', borderColor:'#e8311f', borderWidth:2}},
      {name:'Threshold:2.5', icon:dashPath, itemStyle:{color:'#333', borderWidth:0}}
    ],
    textStyle:{fontFamily:SANS, fontSize:24, color:'#111', width:220, padding:[0,0,0,14], lineHeight:lh}
  };
}

const chart = echarts.init(document.getElementById('chart'), null, {renderer:'canvas'});
chart.setOption({
  backgroundColor:'#fbfcfe',
  animation:false,
  grid, xAxis, yAxis, series,
  legend:[makeLegend(9,24), makeLegend(727,26)],
  graphic:[
    {type:'rect', left:100, top:9, shape:{width:906, height:49}, style:{fill:'none', stroke:'#2a2f35', lineWidth:1.5}, z:10},
    {type:'rect', left:100, top:727, shape:{width:906, height:52}, style:{fill:'none', stroke:'#2a2f35', lineWidth:1.5}, z:10},
    {type:'text', left:21, top:638, style:{text:'A', font:'19px '+SANS, fill:'#111'}},
    {type:'text', left:21, top:1396, style:{text:'B', font:'19px '+SANS, fill:'#111'}}
  ]
});
</script>
</body>
</html>
